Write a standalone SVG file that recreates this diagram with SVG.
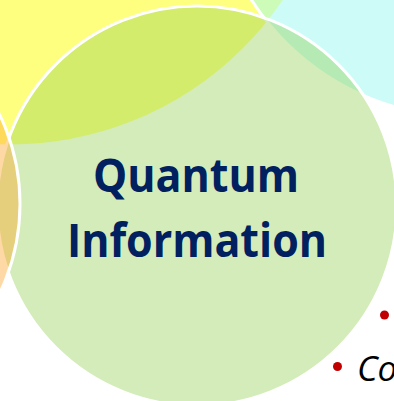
<svg xmlns="http://www.w3.org/2000/svg" width="394" height="401" viewBox="0 0 394 401">
<style>
.c{stroke:#ffffff;stroke-width:3}
.t{font-family:"Open Sans","Noto Sans",sans-serif;font-weight:bold;font-size:46px;fill:#002060}
.b{font-family:"Open Sans","Noto Sans",sans-serif;font-style:italic;font-size:35px;fill:#000000}
.dot{fill:#C00000}
</style>
<rect width="394" height="401" fill="#ffffff"/>
<g id="circle-yellow"><circle class="c" cx="10" cy="-185" r="331" fill="#FFFF00" fill-opacity="0.5"/></g>
<g id="circle-cyan"><circle class="c" cx="466" cy="-138" r="255" fill="#9CF9F1" fill-opacity="0.5"/></g>
<g id="circle-quantum-information">
<circle class="c" cx="197" cy="206" r="200" fill="#92D050" fill-opacity="0.4"/>
<text class="t" x="93" y="192" textLength="206" lengthAdjust="spacingAndGlyphs">Quantum</text>
<text class="t" x="67" y="257" textLength="260" lengthAdjust="spacingAndGlyphs">Information</text>
</g>
<g id="circle-orange"><circle class="c" cx="-186" cy="204" r="206" fill="#FFA528" fill-opacity="0.42"/></g>
<g id="bullets">
<circle class="dot" cx="384.5" cy="315" r="4.5"/>
<circle class="dot" cx="337.5" cy="366.5" r="4.5"/>
<text class="b" x="357" y="381">Co</text>
</g>
</svg>
